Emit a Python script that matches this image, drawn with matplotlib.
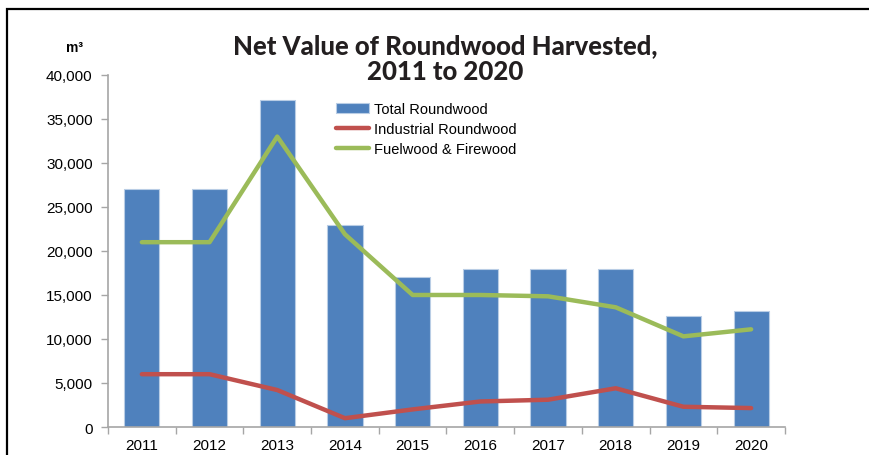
import numpy as np
import matplotlib.pyplot as plt
from matplotlib.patches import Rectangle

plt.rcParams['font.family'] = ['Liberation Sans', 'DejaVu Sans']

## Data (m3)
years = ['2011', '2012', '2013', '2014', '2015', '2016', '2017', '2018', '2019', '2020']
total = [27000, 27000, 37200, 22900, 17000, 17900, 18000, 18000, 12600, 13200]
industrial = [6000, 6000, 4200, 1000, 2000, 2900, 3100, 4400, 2300, 2150]
fuelwood = [21000, 21000, 33000, 21900, 15000, 15000, 14850, 13600, 10300, 11100]

x = np.arange(len(years))

fig = plt.figure(figsize=(8.69, 4.56), dpi=100)
ax = fig.add_axes([0.1243, 0.0614, 0.779, 0.772])

bars = ax.bar(x, total, width=0.52, color='#4F81BD', edgecolor='#B9CDE5', linewidth=0.8,
              label='Total Roundwood', zorder=2)
l1, = ax.plot(x, industrial, color='#C0504D', lw=3.2, label='Industrial Roundwood',
              solid_capstyle='round', zorder=3)
l2, = ax.plot(x, fuelwood, color='#9BBB59', lw=3.2, label='Fuelwood & Firewood',
              solid_capstyle='round', zorder=3)

ax.set_xlim(-0.5, len(years) - 0.5)
ax.set_ylim(0, 40000)
ax.set_yticks(np.arange(0, 40001, 5000))
ax.set_yticklabels([f'{v:,}' for v in range(0, 40001, 5000)])
ax.set_xticks(x)
ax.set_xticklabels(years)
ax.set_xticks(np.arange(-0.5, len(years), 1), minor=True)
ax.tick_params(axis='x', which='major', length=0, pad=8, labelsize=11)
ax.tick_params(axis='x', which='minor', length=5, color='#A6A6A6', width=1)
ax.tick_params(axis='y', length=5, color='#A6A6A6', width=1, labelsize=11, pad=6)

for s in ['top', 'right']:
    ax.spines[s].set_visible(False)
for s in ['left', 'bottom']:
    ax.spines[s].set_color('#A6A6A6')
    ax.spines[s].set_linewidth(1.2)

fig.text(0.512, 0.87, 'Net Value of Roundwood Harvested,\n2011 to 2020',
         ha='center', va='center', fontsize=18.5, fontweight='black',
         family=['Lato', 'DejaVu Sans'], color='#231F20', linespacing=1.1)
fig.text(0.086, 0.895, 'm\u00b3', ha='center', va='center', fontsize=10, fontweight='bold')

ax.legend([bars, l1, l2], ['Total Roundwood', 'Industrial Roundwood', 'Fuelwood & Firewood'],
          loc='upper left', bbox_to_anchor=(0.378, 0.79), bbox_transform=fig.transFigure,
          frameon=False, fontsize=10.5, handlelength=2.3, handletextpad=0.3,
          labelspacing=0.42, borderpad=0)

# page frame
fig.patches.append(Rectangle((7 / 869, -0.1), 1.2, 1 - 10 / 456 + 0.1,
                             transform=fig.transFigure, fill=False,
                             edgecolor='black', lw=1.6))

fig.savefig('out.png', dpi=100)
